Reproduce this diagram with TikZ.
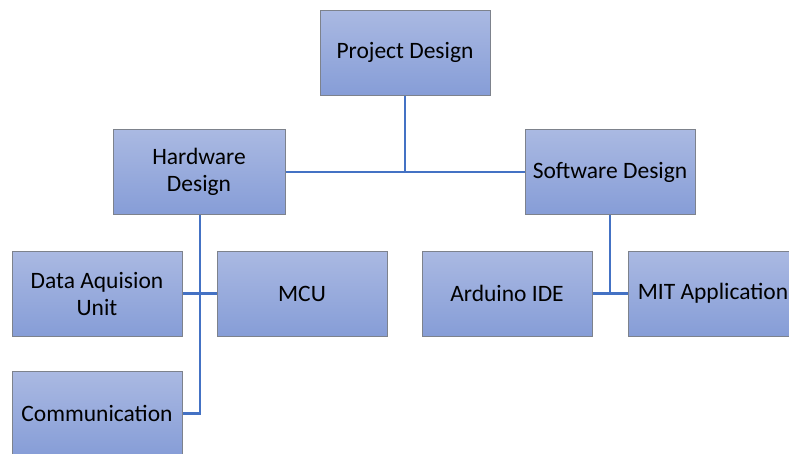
\documentclass[tikz,border=0pt]{standalone}
\usepackage{fontspec}
\setmainfont{Carlito}
\definecolor{boxtop}{RGB}{170,185,226}
\definecolor{boxbot}{RGB}{134,157,215}
\definecolor{boxedge}{RGB}{125,130,140}
\definecolor{linkblue}{RGB}{68,114,196}
\begin{document}
\begin{tikzpicture}[x=1pt,y=-1pt,
  box/.style={draw=boxedge,line width=1pt,top color=boxtop,bottom color=boxbot,
    minimum width=170pt,minimum height=85pt,inner sep=2pt,align=center,
    font=\fontsize{23.5}{27}\selectfont,text=black},
  link/.style={draw=linkblue,line width=2.8pt}]
\useasboundingbox (0,0) rectangle (789,453);
\clip (0,0) rectangle (789,453);
\node[box] (proj) at (405,52.5) {Project Design};
\node[box,minimum width=172pt] (hw) at (199,172) {Hardware\\Design};
\node[box] (sw) at (610,172) {Software Design};
\node[box] (daq) at (97,293.5) {Data Aquision\\Unit};
\node[box] (mcu) at (302,293.5) {MCU};
\node[box] (comm) at (97,413.5) {Communication};
\node[box] (ide) at (507,293.5) {Arduino IDE};
\node[box] (mit) at (713,293.5) {MIT Application};
\coordinate (hj) at (405,172);
\draw[link] (proj.south) -- (hj);
\draw[link] (hw.east) -- (sw.west);
\draw[link] (200,215) -- (200,413.5) -- (comm.east);
\draw[link] (daq.east) -- (mcu.west);
\draw[link] (sw.south) -- (610,293.5);
\draw[link] (ide.east) -- (mit.west);
\end{tikzpicture}
\end{document}
